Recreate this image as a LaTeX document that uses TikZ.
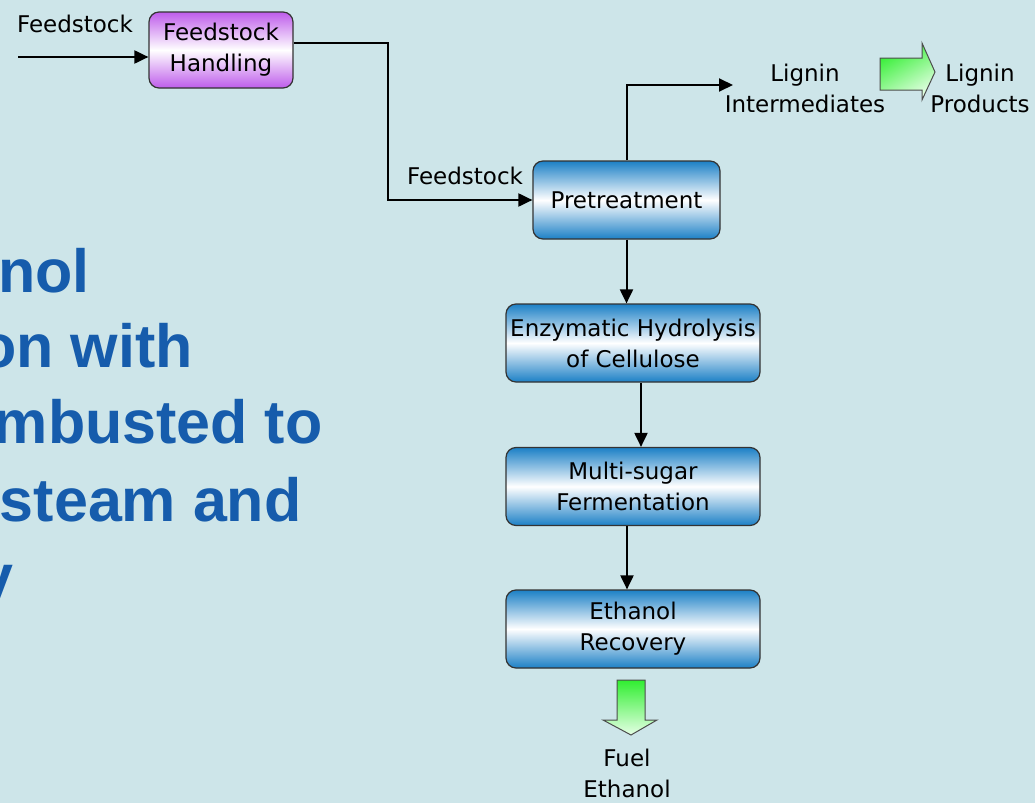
\documentclass[tikz,border=0pt]{standalone}
\usepackage{fontspec}
\setmainfont{DejaVu Sans}
\newfontfamily\headfont{Liberation Sans}
\usetikzlibrary{arrows.meta}
\usetikzlibrary{calc}
\usetikzlibrary{positioning}
\definecolor{bgcol}{RGB}{205,229,233}
\definecolor{unitblue}{RGB}{28,128,198}
\definecolor{unitpurple}{RGB}{190,92,235}
\definecolor{headblue}{RGB}{22,92,172}
\definecolor{flowgreen}{RGB}{48,238,48}
\newcommand{\flowfont}{\fontsize{11.5}{15.5}\selectfont}
\newcommand{\headsize}{\fontsize{30.5}{36}\selectfont}

\begin{document}
\begin{tikzpicture}[x=0.5pt, y=-0.5pt,
    unit/.style={draw=black!80, line width=0.6pt, rounded corners=5pt,
      top color=unitblue, bottom color=unitblue, middle color=white,
      minimum width=127pt, minimum height=39pt, inner sep=0pt,
      align=center, font=\flowfont},
    label/.style={align=center, inner sep=0pt, font=\flowfont},
    head/.style={anchor=base east, inner sep=0pt, text=headblue,
      font=\headfont\bfseries\headsize},
    flow/.style={line width=1pt, -{Triangle[length=7pt, width=6.5pt]}},
    product/.style={draw=black!70, line width=0.5pt, top color=flowgreen,
      bottom color=green!10, shading angle=30}]
  \path[use as bounding box] (0, 0) rectangle (1035, 803);
  \fill[bgcol] (0, 0) rectangle (1035, 803);

  % heading, cut off at the left edge
  \node[head] at (90, 292) {nol};
  \node[head] at (193, 367) {on with};
  \node[head] at (323, 443) {mbusted to};
  \node[head] at (302, 521) {steam and};
  \node[head] at (14, 597) {y};

  % process units
  \node[unit, minimum width=72pt, minimum height=38pt, top color=unitpurple,
    bottom color=unitpurple, middle color=white] (fh) at (221, 50)
    {Feedstock\\Handling};
  \node[unit, minimum width=93.5pt] (pre) at (626.5, 200) {Pretreatment};
  \node[unit] (enz) at (633, 343) {Enzymatic Hydrolysis\\of Cellulose};
  \node[unit] (ms) at (633, 486.5) {Multi-sugar\\Fermentation};
  \node[unit] (eth) at (633, 629) {Ethanol\\Recovery};

  % stream labels
  \node[label] (feed) at (75, 24) {Feedstock};
  \node[label] (feed2) at (465, 176) {Feedstock};
  \node[label] (lint) at (805, 88) {Lignin\\Intermediates};
  \node[label] (lprod) at (980, 88) {Lignin\\Products};
  \node[label] (fuel) at (627, 773) {Fuel\\Ethanol};

  % streams
  \coordinate (in) at (18, 57);
  \coordinate (lg) at (733, 85);
  \draw[flow] (in) -- (in -| fh.west);
  \draw[flow] ($(fh.east)+(0, -7)$) -- ++(94, 0) |- (pre.west);
  \draw[flow] (pre.north) |- (lg);
  \draw[flow] (pre.south) -- (pre.south |- enz.north);
  \draw[flow] ([xshift=4pt]enz.south) -- ([xshift=4pt]enz.south |- ms.north);
  \draw[flow] ([xshift=-3pt]ms.south) -- ([xshift=-3pt]ms.south |- eth.north);

  % product arrows
  \path[product] (880, 58) -- (922, 58) -- (922, 43) -- (935, 72)
    -- (922, 100) -- (922, 90) -- (880, 90) -- cycle;
  \path[product, shading angle=0] (617, 680) -- (645, 680) -- (645, 720)
    -- (657, 720) -- (631, 735) -- (603, 720) -- (617, 720) -- cycle;
\end{tikzpicture}
\end{document}
